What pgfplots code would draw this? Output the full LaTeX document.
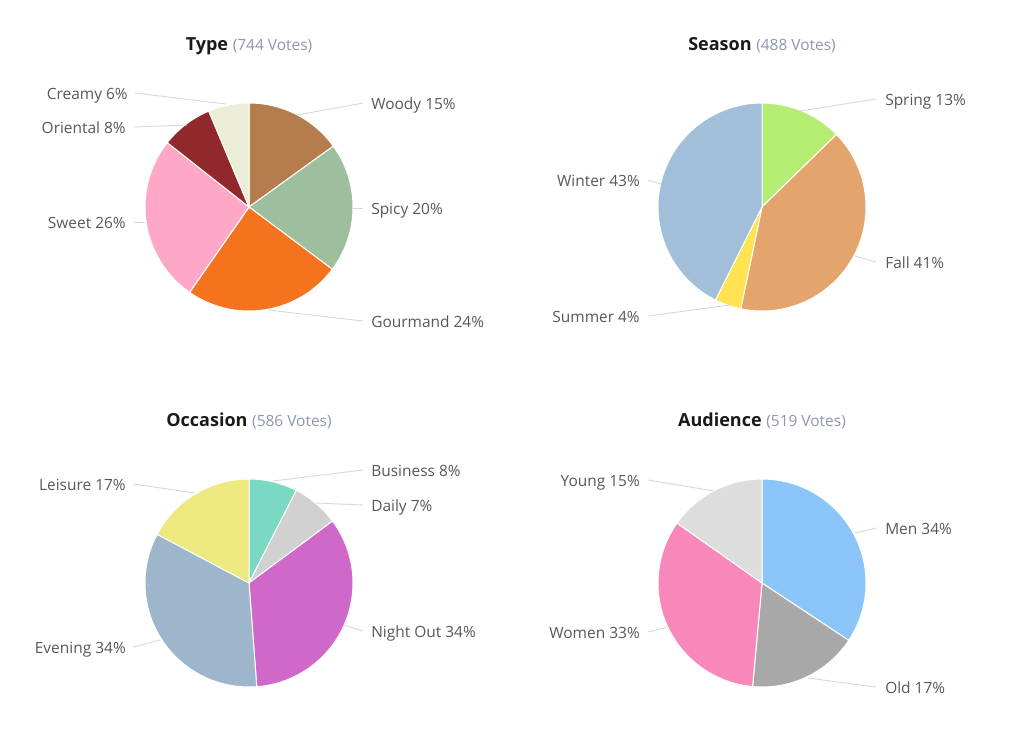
\documentclass[border=0pt]{standalone}
\usepackage{fontspec}
\setmainfont{Open Sans}
\usepackage{pgfplots}
\pgfplotsset{compat=1.18}

\definecolor{cWoody}{HTML}{B57C4E}
\definecolor{cSpicy}{HTML}{9EBF9E}
\definecolor{cGourmand}{HTML}{F5731E}
\definecolor{cSweet}{HTML}{FFA7C7}
\definecolor{cOriental}{HTML}{91282C}
\definecolor{cCreamy}{HTML}{EBEDD7}
\definecolor{cSpring}{HTML}{B4ED72}
\definecolor{cFall}{HTML}{E4A56D}
\definecolor{cSummer}{HTML}{FFE351}
\definecolor{cWinter}{HTML}{A2BFDA}
\definecolor{cBusiness}{HTML}{79D9C2}
\definecolor{cDaily}{HTML}{D1D1D1}
\definecolor{cNight}{HTML}{CF68C8}
\definecolor{cEvening}{HTML}{9EB6CB}
\definecolor{cLeisure}{HTML}{EDE97F}
\definecolor{cMen}{HTML}{8BC4F8}
\definecolor{cOld}{HTML}{A8A8A8}
\definecolor{cWomen}{HTML}{F788B9}
\definecolor{cYoung}{HTML}{DDDDDD}
\definecolor{labelgray}{HTML}{575757}
\definecolor{votegray}{HTML}{8C96AE}
\definecolor{leadergray}{HTML}{D8D8D8}

% pie start: center x, center y (pixels from top), total votes
\newcommand\piestart[3]{\def\cx{#1}\def\cy{#2}\def\tot{#3}\xdef\cum{0}}
% one slice: votes, colour
\newcommand\slice[2]{%
  \pgfmathsetmacro\aS{90-(\cum/\tot)*360}%
  \pgfmathsetmacro\cumN{\cum+#1}%
  \xdef\cum{\cumN}%
  \pgfmathsetmacro\aE{90-(\cum/\tot)*360}%
  \edef\doslice{\noexpand\addplot[fill=#2, draw=white, line width=0.75pt] coordinates {(\cx,\cy)} -- ++(\aS:78pt) arc[start angle=\aS, end angle=\aE, radius=78pt] -- cycle;}%
  \doslice
}
\newcommand\lab[4]{% x, y(center), anchor side, text
  \node[anchor=base #3, inner sep=0pt, text=labelgray, font=\fontsize{11.6}{14}\selectfont] at (axis cs:#1,#2+6.5) {#4};}
\newcommand\ttl[4]{% x, y baseline, name, votes
  \node[anchor=base, inner sep=0pt] at (axis cs:#1,#2) {\fontsize{13.5}{16}\selectfont\bfseries\color{black!90}#3\ \mdseries\fontsize{11.6}{14}\selectfont\color{votegray}(#4 Votes)};}

\begin{document}
\begin{tikzpicture}
\begin{axis}[
  hide axis, scale only axis, clip=false,
  width=768pt, height=546.75pt,
  xmin=0, xmax=1024, ymin=0, ymax=729, y dir=reverse,
  leader/.style={draw=leadergray, line width=0.7pt}
]
\path (rel axis cs:0,0) rectangle (rel axis cs:1,1);

% ---------- Type (744 votes)
\piestart{249}{207}{744}
\slice{112}{cWoody}
\slice{150}{cSpicy}
\slice{182}{cGourmand}
\slice{193}{cSweet}
\slice{60}{cOriental}
\slice{47}{cCreamy}
\ttl{249}{50.5}{Type}{744}
\addplot[leader] coordinates {(297,115) (363,103)};
\addplot[leader] coordinates {(353,208) (363,208)};
\addplot[leader] coordinates {(268,310) (363,321)};
\addplot[leader] coordinates {(134,222) (145,222)};
\addplot[leader] coordinates {(134,127) (187,125)};
\addplot[leader] coordinates {(135,93) (226,104)};
\lab{371}{103}{west}{Woody 15\%}
\lab{371}{208}{west}{Spicy 20\%}
\lab{371}{321}{west}{Gourmand 24\%}
\lab{126}{222}{east}{Sweet 26\%}
\lab{126}{127}{east}{Oriental 8\%}
\lab{128}{93}{east}{Creamy 6\%}

% ---------- Season (488 votes)
\piestart{762}{207}{488}
\slice{62}{cSpring}
\slice{198}{cFall}
\slice{20}{cSummer}
\slice{208}{cWinter}
\ttl{762}{50.5}{Season}{488}
\addplot[leader] coordinates {(800,111) (876,99)};
\addplot[leader] coordinates {(855,256) (876,262)};
\addplot[leader] coordinates {(648,316) (730,305)};
\addplot[leader] coordinates {(648,180) (661,184)};
\lab{885}{99}{west}{Spring 13\%}
\lab{885}{262}{west}{Fall 41\%}
\lab{640}{316}{east}{Summer 4\%}
\lab{640}{180}{east}{Winter 43\%}

% ---------- Occasion (586 votes)
\piestart{249}{583}{586}
\slice{44}{cBusiness}
\slice{43}{cDaily}
\slice{199}{cNight}
\slice{199}{cEvening}
\slice{101}{cLeisure}
\ttl{249}{426.5}{Occasion}{586}
\addplot[leader] coordinates {(273,481) (363,470)};
\addplot[leader] coordinates {(316,503) (363,505)};
\addplot[leader] coordinates {(344,625) (363,631)};
\addplot[leader] coordinates {(133,647) (160,640)};
\addplot[leader] coordinates {(133,484) (195,493)};
\lab{371}{470}{west}{Business 8\%}
\lab{371}{505}{west}{Daily 7\%}
\lab{371}{631}{west}{Night Out 34\%}
\lab{126}{647}{east}{Evening 34\%}
\lab{126}{484}{east}{Leisure 17\%}

% ---------- Audience (519 votes)
\piestart{762}{583}{519}
\slice{178}{cMen}
\slice{89}{cOld}
\slice{173}{cWomen}
\slice{79}{cYoung}
\ttl{762}{426.5}{Audience}{519}
\addplot[leader] coordinates {(855,533) (876,528)};
\addplot[leader] coordinates {(808,678) (876,687)};
\addplot[leader] coordinates {(648,632) (668,627)};
\addplot[leader] coordinates {(648,480) (714,491)};
\lab{885}{528}{west}{Men 34\%}
\lab{885}{687}{west}{Old 17\%}
\lab{640}{632}{east}{Women 33\%}
\lab{640}{480}{east}{Young 15\%}
\end{axis}
\end{tikzpicture}
\end{document}
